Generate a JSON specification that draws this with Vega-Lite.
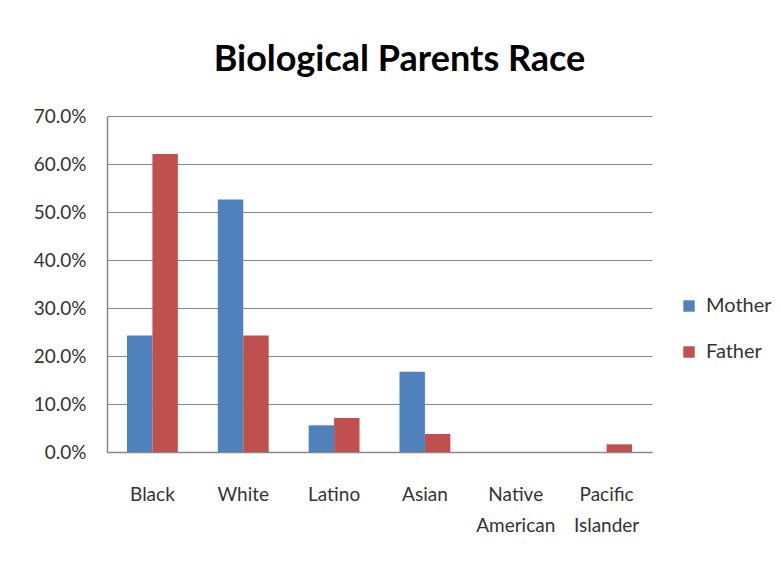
{
  "$schema": "https://vega.github.io/schema/vega-lite/v6.json",
  "autosize": "none",
  "width": 545,
  "height": 336,
  "padding": {"left": 107, "top": 116, "right": 129, "bottom": 113},
  "background": "white",
  "title": {
    "text": "Biological Parents Race",
    "font": "Lato",
    "fontSize": 36,
    "fontWeight": "bold",
    "color": "black",
    "anchor": "middle",
    "frame": "group",
    "dx": 20,
    "offset": 28
  },
  "data": {
    "values": [
      {"race": "Black", "parent": "Mother", "value": 0.2425},
      {"race": "Black", "parent": "Father", "value": 0.621},
      {"race": "White", "parent": "Mother", "value": 0.526},
      {"race": "White", "parent": "Father", "value": 0.2425},
      {"race": "Latino", "parent": "Mother", "value": 0.0556},
      {"race": "Latino", "parent": "Father", "value": 0.0708},
      {"race": "Asian", "parent": "Mother", "value": 0.167},
      {"race": "Asian", "parent": "Father", "value": 0.0375},
      {"race": "Native American", "parent": "Mother", "value": 0},
      {"race": "Native American", "parent": "Father", "value": 0},
      {"race": "Pacific Islander", "parent": "Mother", "value": 0},
      {"race": "Pacific Islander", "parent": "Father", "value": 0.016}
    ]
  },
  "mark": {"type": "bar"},
  "encoding": {
    "x": {
      "field": "race",
      "type": "nominal",
      "sort": ["Black", "White", "Latino", "Asian", "Native American", "Pacific Islander"],
      "scale": {"paddingInner": 0.44, "paddingOuter": 0.22},
      "axis": {
        "title": null,
        "labelAngle": 0,
        "labelExpr": "split(datum.label, ' ')",
        "labelFont": "Lato",
        "labelFontSize": 19,
        "labelColor": "#333",
        "labelPadding": 33,
        "labelLineHeight": 31,
        "ticks": false,
        "domainColor": "#888",
        "domainWidth": 1.5
      }
    },
    "xOffset": {
      "field": "parent",
      "type": "nominal",
      "sort": ["Mother", "Father"],
      "scale": {"paddingInner": 0, "paddingOuter": 0}
    },
    "y": {
      "field": "value",
      "type": "quantitative",
      "scale": {"domain": [0, 0.7], "nice": false},
      "axis": {
        "title": null,
        "format": ".1%",
        "values": [0, 0.1, 0.2, 0.3, 0.4, 0.5, 0.6, 0.7],
        "labelFont": "Lato",
        "labelFontSize": 19,
        "labelColor": "#333",
        "labelPadding": 21,
        "ticks": false,
        "domainColor": "#888",
        "domainWidth": 1.5,
        "gridColor": "#888",
        "gridWidth": 1.2
      }
    },
    "color": {
      "field": "parent",
      "type": "nominal",
      "sort": ["Mother", "Father"],
      "scale": {"domain": ["Mother", "Father"], "range": ["#4F81BD", "#C0504D"]},
      "legend": {
        "title": null,
        "orient": "none",
        "legendX": 572,
        "legendY": 180,
        "symbolType": "square",
        "symbolSize": 130,
        "symbolStrokeWidth": 0,
        "labelFont": "Lato",
        "labelFontSize": 20,
        "labelColor": "#333",
        "rowPadding": 26,
        "labelOffset": 7
      }
    }
  },
  "config": {"view": {"stroke": null}}
}
